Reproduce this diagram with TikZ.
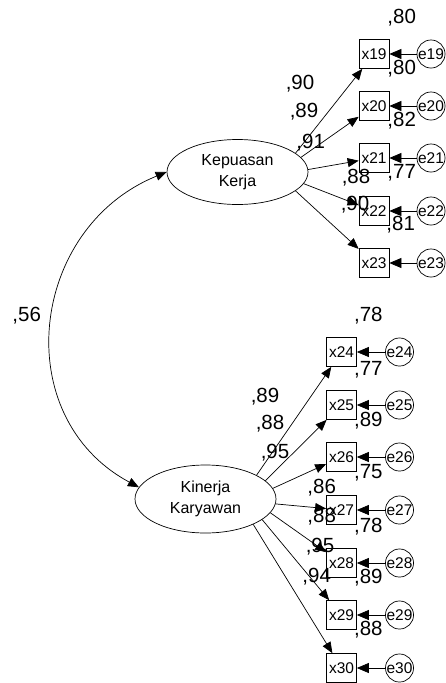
\documentclass[tikz,border=0pt]{standalone}
\usepackage{fontspec}
\setmainfont{Liberation Sans}
\usetikzlibrary{shapes.geometric,arrows.meta}

\tikzset{
  latent/.style={draw, ellipse, minimum width=141pt, minimum height=65pt, inner sep=0pt, align=center, font=\fontsize{16}{21}\selectfont},
  obs/.style={draw, minimum width=30pt, minimum height=29pt, inner sep=0pt, font=\fontsize{15.5}{18}\selectfont},
  err/.style={draw, circle, minimum size=28pt, inner sep=0pt, font=\fontsize{15.5}{18}\selectfont},
  est/.style={inner sep=0pt, font=\fontsize{20.5}{24}\selectfont},
  load/.style={-{Triangle[length=11pt,width=9pt]}},
  resid/.style={-{Triangle[length=12pt,width=10pt]}},
}

\begin{document}
\begin{tikzpicture}[x=1pt,y=-1pt,line width=0.7pt]
			\useasboundingbox (0,0) rectangle (446,683);

			\node[latent] (kk) at (237.5,172) {Kepuasan\\Kerja};
			\node[latent, minimum height=68pt] (kin) at (205.5,499) {Kinerja\\Karyawan};

			\node[obs] (x19) at (374,54) {x19};
			\node[obs] (x20) at (374,106) {x20};
			\node[obs] (x21) at (374,158) {x21};
			\node[obs] (x22) at (374,211) {x22};
			\node[obs] (x23) at (374,263) {x23};

			\node[err] (e19) at (431,54) {e19};
			\node[err] (e20) at (431,106) {e20};
			\node[err] (e21) at (431,158) {e21};
			\node[err] (e22) at (431,211) {e22};
			\node[err] (e23) at (431,263) {e23};

			\node[obs] (x24) at (341.5,352) {x24};
			\node[obs] (x25) at (341.5,405) {x25};
			\node[obs] (x26) at (341.5,457) {x26};
			\node[obs] (x27) at (341.5,510) {x27};
			\node[obs] (x28) at (341.5,563) {x28};
			\node[obs] (x29) at (341.5,615) {x29};
			\node[obs] (x30) at (341.5,668) {x30};

			\node[err] (e24) at (399.5,352) {e24};
			\node[err] (e25) at (399.5,405) {e25};
			\node[err] (e26) at (399.5,457) {e26};
			\node[err] (e27) at (399.5,510) {e27};
			\node[err] (e28) at (399.5,563) {e28};
			\node[err] (e29) at (399.5,615) {e29};
			\node[err] (e30) at (399.5,668) {e30};

			% correlation
			\draw[{Triangle[length=11pt,width=9pt]}-{Triangle[length=11pt,width=9pt]}] (kk.west) .. controls (29,228) and (8,417) .. (kin.170);
			\node[est] (r1) at (26.7,315.7) {,56};

			\draw[load] (kk.18) -- (x19);
			\draw[load] (kk.13) -- (x20);
			\draw[load] (kk.2) -- (x21);
			\draw[load] (kk.-10) -- (x22);
			\draw[load] (kk.-18) -- (x23);

			\draw[load] (kin.25) -- (x24);
			\draw[load] (kin.17) -- (x25);
			\draw[load] (kin.9) -- (x26);
			\draw[load] (kin.-4) -- (x27);
			\draw[load] (kin.-12) -- (x28);
			\draw[load] (kin.-20) -- (x29);
			\draw[load] (kin.-28) -- (x30);

			\draw[resid] (e19) -- (x19);
			\draw[resid] (e20) -- (x20);
			\draw[resid] (e21) -- (x21);
			\draw[resid] (e22) -- (x22);
			\draw[resid] (e23) -- (x23);
			\draw[resid] (e24) -- (x24);
			\draw[resid] (e25) -- (x25);
			\draw[resid] (e26) -- (x26);
			\draw[resid] (e27) -- (x27);
			\draw[resid] (e28) -- (x28);
			\draw[resid] (e29) -- (x29);
			\draw[resid] (e30) -- (x30);

			% loadings, top
			\node[est] (l19) at (300,84) {,90};
			\node[est] (l20) at (304,112) {,89};
			\node[est] (l21) at (310.7,143) {,91};
			\node[est] (l22) at (356,178) {,88};
			\node[est] (l23) at (355,205) {,90};

			% r-squared, top
			\node[est] (q19) at (401.7,17.3) {,80};
			\node[est] (q20) at (401.7,69) {,80};
			\node[est] (q21) at (401.7,120.7) {,82};
			\node[est] (q22) at (401.7,173) {,77};
			\node[est] (q23) at (400.7,225) {,81};

			% loadings, bottom
			\node[est] (l24) at (265,396.7) {,89};
			\node[est] (l25) at (270,424) {,88};
			\node[est] (l26) at (275,453) {,95};
			\node[est] (l27) at (321.7,488) {,86};
			\node[est] (l28) at (321.7,517) {,88};
			\node[est] (l29) at (320,546.7) {,95};
			\node[est] (l30) at (316.7,577) {,94};

			% r-squared, bottom
			\node[est] (q24) at (368.3,316) {,78};
			\node[est] (q25) at (368.3,370) {,77};
			\node[est] (q26) at (368.3,420.7) {,89};
			\node[est] (q27) at (368.3,473) {,75};
			\node[est] (q28) at (368.3,526.7) {,78};
			\node[est] (q29) at (368.3,578) {,89};
			\node[est] (q30) at (368.3,630) {,88};
		\end{tikzpicture}
\end{document}
